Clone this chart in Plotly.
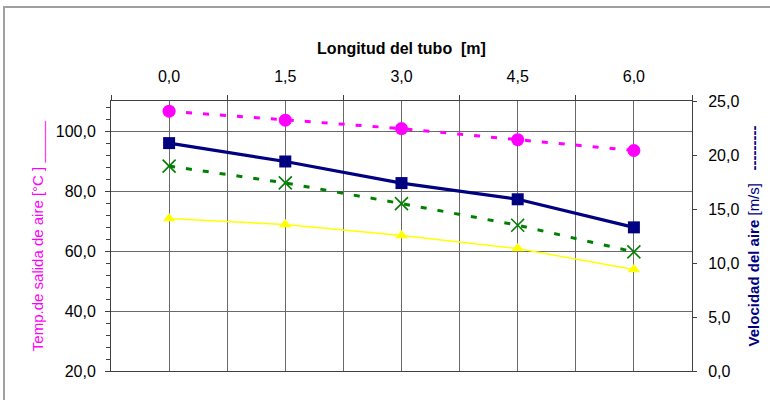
import plotly.graph_objects as go

# ---- data ----
longitud = [0.0, 1.5, 3.0, 4.5, 6.0]
tick_labels = ["0,0", "1,5", "3,0", "4,5", "6,0"]
temp_magenta = [106.6, 103.6, 100.8, 97.1, 93.5]     # left axis
velocidad = [21.1, 19.4, 17.4, 15.9, 13.3]            # right axis (m/s)
temp_green = [88.3, 82.7, 75.8, 68.6, 59.7]           # left axis
temp_yellow = [70.8, 68.8, 65.2, 60.8, 53.8]          # left axis

left_ticks = [20, 40, 60, 80, 100]
right_ticks = [0, 5, 10, 15, 20, 25]
between = [-0.75, 0.75, 2.25, 3.75, 5.25, 6.75]

FONT = "Liberation Sans, Arial, sans-serif"
GRID = "#6a6a6a"
AXIS = "#404040"

W, H = 770, 400
L, R, T, B = 111, 78, 101, 29
PW, PH = W - L - R, H - T - B

fig = go.Figure()

fig.add_trace(go.Scatter(
    x=longitud, y=temp_yellow, mode="lines+markers",
    line=dict(color="#FFFF00", width=1.5),
    marker=dict(symbol="triangle-up", size=11, color="#FFFF00"),
    showlegend=False))
fig.add_trace(go.Scatter(
    x=longitud, y=temp_green, mode="lines+markers",
    line=dict(color="#008000", width=3, dash="6px,11px"),
    marker=dict(symbol="x-thin-open", size=13, color="#008000",
                line=dict(color="#008000", width=1.6)),
    showlegend=False))
fig.add_trace(go.Scatter(
    x=longitud, y=velocidad, yaxis="y2", mode="lines+markers",
    line=dict(color="#000080", width=3.2),
    marker=dict(symbol="square", size=12, color="#000080"),
    showlegend=False))
fig.add_trace(go.Scatter(
    x=longitud, y=temp_magenta, mode="lines+markers",
    line=dict(color="#FF00FF", width=3, dash="6px,11px"),
    marker=dict(symbol="circle", size=13, color="#FF00FF"),
    showlegend=False))

fig.update_layout(
    width=W, height=H,
    margin=dict(l=L, r=R, t=T, b=B),
    paper_bgcolor="white", plot_bgcolor="white",
    separators=",.",
    font=dict(family=FONT, size=16, color="#000000"),
    xaxis=dict(
        side="top", range=[-0.75, 6.75], automargin=False,
        tickvals=longitud, ticktext=tick_labels, ticks="",
        ticklabelstandoff=12,
        showgrid=True, gridcolor=GRID, gridwidth=1,
        minor=dict(tickvals=between, ticks="outside", ticklen=5,
                   tickcolor=AXIS, showgrid=True, gridcolor=GRID),
        showline=True, linecolor=AXIS, linewidth=1, mirror=True,
        zeroline=False,
        tickfont=dict(size=16, family=FONT),
        title=dict(text="<b>Longitud del tubo  [m]</b>", standoff=8,
                   font=dict(size=16, family=FONT)),
    ),
    yaxis=dict(
        range=[20, 110], tickvals=left_ticks, tickformat=".1f",
        automargin=False,
        ticks="outside", ticklen=5, tickcolor=AXIS,
        ticklabelstandoff=6,
        minor=dict(tick0=20, dtick=4, ticks="outside", ticklen=4,
                   tickcolor=AXIS, showgrid=False),
        showgrid=True, gridcolor=GRID, gridwidth=1,
        showline=True, linecolor=AXIS, linewidth=1,
        zeroline=False,
        tickfont=dict(size=16, family=FONT),
        title=dict(text="Temp.de salida de aire [°C ] _____", standoff=8,
                   font=dict(size=15, family=FONT, color="#FF00FF")),
    ),
    yaxis3=dict(
        overlaying="y", side="left", anchor="x", automargin=False,
        range=[20, 110], showticklabels=False, showgrid=False,
        tickvals=[], zeroline=False, showline=False,
        minor=dict(tick0=20, dtick=4, ticks="inside", ticklen=4,
                   tickcolor=AXIS, showgrid=False),
    ),
    yaxis2=dict(
        overlaying="y", side="right", anchor="x", automargin=False,
        range=[0, 25], tickvals=right_ticks, tickformat=".1f",
        ticks="outside", ticklen=4, tickcolor=AXIS,
        ticklabelstandoff=8,
        showgrid=False, zeroline=False,
        showline=True, linecolor=AXIS, linewidth=1,
        tickfont=dict(size=16, family=FONT),
        title=dict(text="<b>Velocidad del aire</b> [m/s]   <b>---------</b>",
                   standoff=10,
                   font=dict(size=15, family=FONT, color="#000080")),
    ),
    yaxis4=dict(
        overlaying="y", side="right", anchor="x", automargin=False,
        range=[0, 25], tickvals=[5, 10, 15, 20], ticks="inside",
        ticklen=4, tickcolor=AXIS, showticklabels=False,
        showgrid=False, zeroline=False, showline=False,
    ),
    shapes=[dict(type="rect", xref="paper", yref="paper",
                 x0=(4 - L) / PW, x1=(790 - L) / PW,
                 y0=(H - B - 420) / PH, y1=(H - B - 7) / PH,
                 line=dict(color="#a0a0a0", width=2), layer="below")],
)

fig.write_html("out.html",
               config={"displayModeBar": False},
               post_script="document.body.style.margin='0';"
                           "document.body.style.overflow='hidden';")
